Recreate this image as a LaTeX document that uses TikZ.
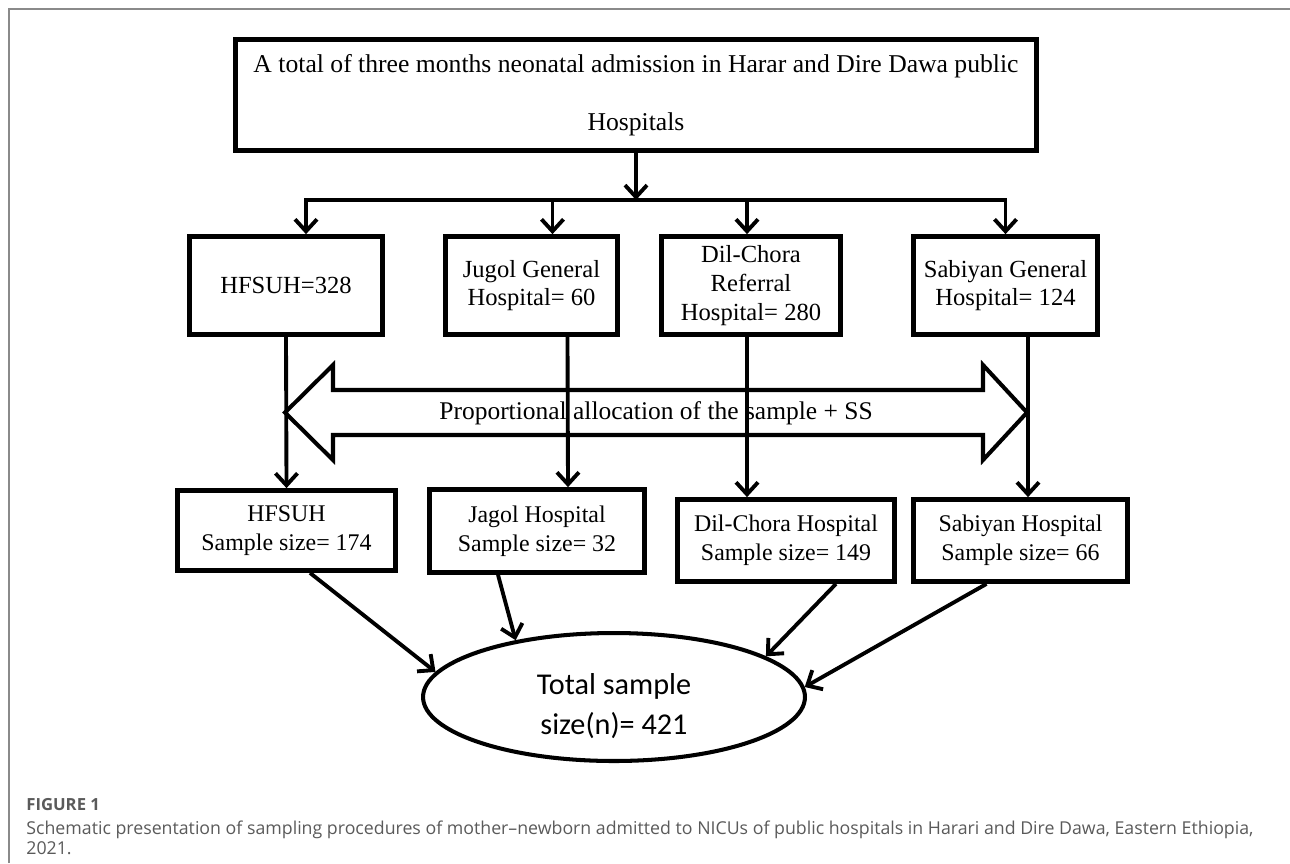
\documentclass[tikz,border=0pt]{standalone}
\usepackage{fontspec}
\setmainfont{Liberation Serif}
\newfontfamily\ellfont{Carlito}
\newfontfamily\capfont{Open Sans}
\usetikzlibrary{arrows.meta, shapes.geometric}
\definecolor{framegray}{HTML}{8A8A8A}
\definecolor{capgray}{HTML}{5A5A5A}

\begin{document}
\begin{tikzpicture}[x=0.02cm, y=-0.02cm,
    hbox/.style={draw, line width=2.7pt, align=center, inner sep=0pt, font=\fontsize{14}{16.4}\selectfont},
    sbox/.style={hbox, font=\fontsize{13.6}{16.4}\selectfont},
    link/.style={line width=2.2pt, line cap=rect},
    arr/.style={line width=2.2pt, -{Straight Barb[length=2.4mm, width=4.4mm]}}]
    % Page and frame
    \useasboundingbox (0,0) rectangle (1290,863);
    \draw[framegray, line width=0.8pt] (9,863) -- (9,9) -- (1290,9);

    % Top box
    \node[hbox, minimum width=16.02cm, minimum height=2.22cm, font=\fontsize{14.6}{16.5}\selectfont] (adm) at (636,95) {A total of three months neonatal admission in Harar and Dire Dawa public\\[16.5pt]Hospitals};

    % Hospital boxes
    \node[hbox, minimum width=3.86cm, minimum height=1.96cm] (hfsuh) at (286,285.5) {HFSUH=328};
    \node[hbox, minimum width=3.44cm, minimum height=1.96cm] (jugol) at (531.5,285.5) {Jugol General\\Hospital= 60};
    \node[hbox, minimum width=3.58cm, minimum height=1.96cm] (dilchora) at (751,285.5) {Dil-Chora\\Referral\\Hospital= 280};
    \node[hbox, minimum width=3.68cm, minimum height=1.96cm] (sabiyan) at (1005.5,285.5) {Sabiyan General\\Hospital= 124};

    % Proportional allocation arrow
    \draw[line width=2.3pt, line join=miter] (285,412.5) -- (333,365) -- (333,390) -- (983,390) -- (983,365) -- (1027,412.5)
        -- (983,460) -- (983,435) -- (333,435) -- (333,460) -- cycle;
    \node[font=\fontsize{14.5}{16.5}\selectfont] (alloc) at (656,413) {Proportional allocation of the sample + SS};

    % Sample size boxes
    \node[sbox, minimum width=4.36cm, minimum height=1.6cm] (shfsuh) at (286.5,530.5) {HFSUH\\Sample size= 174};
    \node[sbox, minimum width=4.3cm, minimum height=1.66cm] (sjagol) at (537,531) {Jagol Hospital\\Sample size= 32};
    \node[sbox, minimum width=4.34cm, minimum height=1.64cm] (sdil) at (786,540.5) {Dil-Chora Hospital\\Sample size= 149};
    \node[sbox, minimum width=4.28cm, minimum height=1.64cm] (ssab) at (1020.5,540.5) {Sabiyan Hospital\\Sample size= 66};

    % Total sample
    \node[draw, ellipse, line width=2.3pt, minimum width=7.64cm, minimum height=2.56cm, inner sep=0pt] (tss) at (614,697) {};
    \node[align=center, font=\ellfont\fontsize{17.2}{22.7}\selectfont] (tsstext) at (614,706) {Total sample\\size(n)= 421};

    % Split from the top box
    \coordinate (bus) at (adm.south |- 0,200);
    \coordinate (d1) at ([xshift=0.4cm]hfsuh.north);
    \coordinate (d2) at ([xshift=0.42cm]jugol.north);
    \coordinate (d3) at ([xshift=-0.08cm]dilchora.north);
    \coordinate (d4) at (sabiyan.north);
    \draw[arr] (adm.south) -- (bus);
    \draw[link] (d1 |- bus) -- (d4 |- bus);
    \foreach \d in {d1,d2,d3,d4} \draw[arr] (\d |- bus) -- (\d);

    % Down through the allocation arrow
    \draw[arr] (hfsuh.south) -- (shfsuh.north);
    \draw[arr] ([xshift=0.72cm]jugol.south) -- ([xshift=0.62cm]sjagol.north);
    \draw[arr] ([xshift=-0.08cm]dilchora.south) -- ([xshift=-0.78cm]sdil.north);
    \draw[arr] ([xshift=0.45cm]sabiyan.south) -- ([xshift=0.15cm]ssab.north);

    % Into the total
    \draw[arr] ([xshift=0.47cm]shfsuh.south) -- (tss.172);
    \draw[arr] ([xshift=-0.78cm]sjagol.south) -- (tss.150);
    \draw[arr] ([xshift=1cm]sdil.south) -- (tss.15);
    \draw[arr] ([xshift=-0.68cm]ssab.south) -- (tss.3);

    % Caption
    \node[anchor=west, inner sep=0pt, text=capgray, font=\capfont\bfseries\fontsize{9.5}{10}\selectfont] (fig) at (26,805) {FIGURE 1};
    \node[anchor=north west, inner sep=0pt, align=left, text=capgray, font=\capfont\fontsize{10.1}{11}\selectfont] (cap) at (26,821) {Schematic presentation of sampling procedures of mother–newborn admitted to NICUs of public hospitals in Harari and Dire Dawa, Eastern Ethiopia,\\2021.};
\end{tikzpicture}
\end{document}
